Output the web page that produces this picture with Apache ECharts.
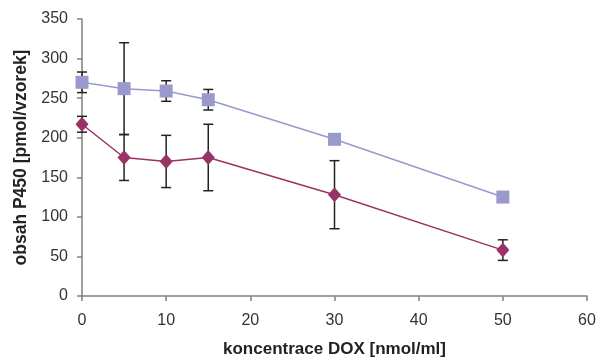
<!DOCTYPE html>
<html>
<head>
<meta charset="utf-8">
<script src="https://cdn.jsdelivr.net/npm/echarts@6/dist/echarts.min.js"></script>
<style>
  html, body { margin: 0; padding: 0; background: #fff; }
</style>
</head>
<body>
<div id="chart" style="width: 597px; height: 358px"></div>
<script>
const xValues = [0, 5, 10, 15, 30, 50]
const squareValues = [270, 262, 259, 248, 198, 125]
const squareErrors = [13, 58, 13, 13, 0, 0]
const diamondValues = [217, 175, 170, 175, 128, 58]
const diamondErrors = [10, 29, 33, 42, 43, 13]

const SQUARE_COLOR = '#9999cc'
const DIAMOND_COLOR = '#993366'
const FONT = 'Liberation Sans, Arial, sans-serif'

function errorData(values, errors) {
  return xValues
    .map((x, i) => [x, values[i] - errors[i], values[i] + errors[i]])
    .filter((d, i) => errors[i] > 0)
}

function renderErrorBar(params, api) {
  const x = api.value(0)
  const lo = api.coord([x, api.value(1)])
  const hi = api.coord([x, api.value(2)])
  const half = 5
  const style = { stroke: '#222', lineWidth: 1.5, fill: null }
  return {
    type: 'group',
    children: [
      { type: 'line', shape: { x1: lo[0], y1: lo[1], x2: hi[0], y2: hi[1] }, style },
      { type: 'line', shape: { x1: hi[0] - half, y1: hi[1], x2: hi[0] + half, y2: hi[1] }, style },
      { type: 'line', shape: { x1: lo[0] - half, y1: lo[1], x2: lo[0] + half, y2: lo[1] }, style },
    ],
  }
}

const chart = echarts.init(document.getElementById('chart'), null, { renderer: 'canvas' })

chart.setOption({
  backgroundColor: '#fff',
  animation: false,
  grid: { left: 82, right: 10, top: 19, bottom: 62, containLabel: false, outerBoundsMode: 'none' },
  xAxis: {
    type: 'value',
    min: 0, max: 60, interval: 10,
    name: 'koncentrace DOX [nmol/ml]',
    nameLocation: 'middle',
    nameGap: 45,
    nameTextStyle: { fontFamily: FONT, fontWeight: 'bold', fontSize: 17, color: '#222' },
    axisLine: { lineStyle: { color: '#808080', width: 1.5 } },
    axisTick: { show: true, length: 5, lineStyle: { color: '#808080', width: 1.5 } },
    axisLabel: { fontFamily: FONT, fontSize: 16, color: '#333', margin: 17 },
    splitLine: { show: false },
  },
  yAxis: {
    type: 'value',
    min: 0, max: 350, interval: 50,
    name: 'obsah P450 [pmol/vzorek]',
    nameLocation: 'middle',
    nameGap: 51,
    nameTextStyle: { fontFamily: FONT, fontWeight: 'bold', fontSize: 17.5, color: '#222' },
    axisLine: { show: true, lineStyle: { color: '#808080', width: 1.5 } },
    axisTick: { show: true, length: 5, lineStyle: { color: '#808080', width: 1.5 } },
    axisLabel: { fontFamily: FONT, fontSize: 16, color: '#333', margin: 14 },
    splitLine: { show: false },
  },
  series: [
    {
      type: 'custom',
      renderItem: renderErrorBar,
      data: errorData(squareValues, squareErrors),
      z: 1,
    },
    {
      type: 'custom',
      renderItem: renderErrorBar,
      data: errorData(diamondValues, diamondErrors),
      z: 1,
    },
    {
      type: 'line',
      data: xValues.map((x, i) => [x, squareValues[i]]),
      symbol: 'rect',
      symbolSize: 13,
      itemStyle: { color: SQUARE_COLOR },
      lineStyle: { color: SQUARE_COLOR, width: 1.5 },
      z: 3,
    },
    {
      type: 'line',
      data: xValues.map((x, i) => [x, diamondValues[i]]),
      symbol: 'diamond',
      symbolSize: [13, 15],
      itemStyle: { color: DIAMOND_COLOR },
      lineStyle: { color: DIAMOND_COLOR, width: 1.5 },
      z: 3,
    },
  ],
})
</script>
</body>
</html>
